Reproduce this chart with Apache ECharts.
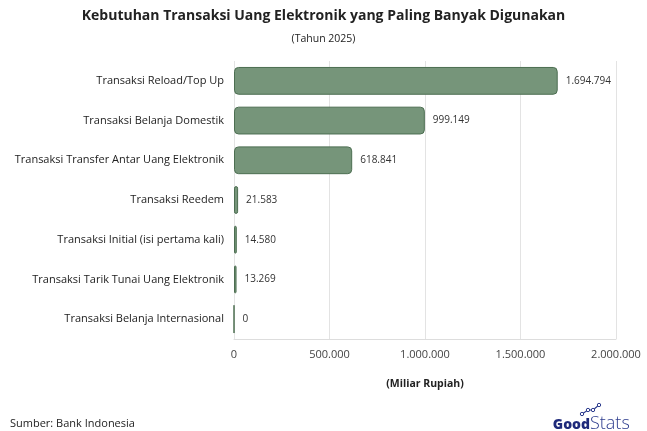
<!DOCTYPE html>
<html><head><meta charset="utf-8">
<script src="https://cdn.jsdelivr.net/npm/echarts@6/dist/echarts.min.js"></script>
<style>html,body{margin:0;padding:0;background:#fff}#c{width:647px;height:431px}</style>
</head><body><div id="c"></div>
<script>
const categories = [
  "Transaksi Reload/Top Up",
  "Transaksi Belanja Domestik",
  "Transaksi Transfer Antar Uang Elektronik",
  "Transaksi Reedem",
  "Transaksi Initial (isi pertama kali)",
  "Transaksi Tarik Tunai Uang Elektronik",
  "Transaksi Belanja Internasional"
];
const values = [1694794, 999149, 618841, 21583, 14580, 13269, 0];
const xTicks = [0, 500000, 1000000, 1500000, 2000000];

const FONT = "'Open Sans', sans-serif";
function fmt(v){ return String(Math.round(v)).replace(/\B(?=(\d{3})+(?!\d))/g, "."); }

const chart = echarts.init(document.getElementById('c'), null, {renderer:'canvas'});
chart.setOption({
  animation:false,
  textStyle:{fontFamily:FONT},
  title:[
    {text:"Kebutuhan Transaksi Uang Elektronik yang Paling Banyak Digunakan", left:'center', top:4,
     textStyle:{fontSize:14, fontWeight:'bold', color:'#222', fontFamily:FONT}},
    {text:"(Tahun 2025)", left:'center', top:29,
     textStyle:{fontSize:10.5, fontWeight:'normal', color:'#222', fontFamily:FONT}},
    {text:"Sumber: Bank Indonesia", left:5, top:413,
     textStyle:{fontSize:11, fontWeight:'normal', color:'#222', fontFamily:FONT}}
  ],
  grid:{left:234, right:31, top:61, bottom:92, containLabel:false},
  xAxis:{
    type:'value', min:xTicks[0], max:xTicks[xTicks.length-1], interval:xTicks[1]-xTicks[0],
    axisLine:{show:true, lineStyle:{color:'#dddddd'}},
    axisTick:{show:false},
    splitLine:{show:true, lineStyle:{color:'#e3e3e3'}},
    axisLabel:{formatter:fmt, color:'#444', fontSize:11, margin:10, fontFamily:FONT},
    name:"(Miliar Rupiah)", nameLocation:'middle', nameGap:40,
    nameTextStyle:{fontSize:10.5, fontWeight:'bold', color:'#222', fontFamily:FONT}
  },
  yAxis:{
    type:'category', data:categories, inverse:true,
    axisLine:{show:false}, axisTick:{show:false},
    axisLabel:{color:'#222', fontSize:11, margin:10, fontFamily:FONT}
  },
  series:[{
    type:'bar', data:values, barWidth:'70%',
    itemStyle:{color:'#76957a', borderColor:'#4c6e51', borderWidth:1, borderRadius:4},
    label:{show:true, position:'right', distance:8, formatter:p=>fmt(p.value), color:'#333', fontSize:10, fontFamily:FONT}
  }],
  graphic:[
    {type:'polyline', shape:{points:[[582,414],[588,410],[593,410],[599,405]]}, style:{stroke:'#2b3a8c', lineWidth:1.2, fill:null}},
    {type:'circle', shape:{cx:582, cy:414, r:1.7}, style:{stroke:'#2b3a8c', fill:'#fff', lineWidth:1}},
    {type:'circle', shape:{cx:588, cy:410, r:1.7}, style:{stroke:'#2b3a8c', fill:'#fff', lineWidth:1}},
    {type:'circle', shape:{cx:593, cy:410, r:1.7}, style:{stroke:'#2b3a8c', fill:'#fff', lineWidth:1}},
    {type:'circle', shape:{cx:599, cy:405, r:1.7}, style:{stroke:'#2b3a8c', fill:'#fff', lineWidth:1}},
    {type:'text', x:590, y:432, style:{text:'Good', font:"800 14px "+FONT, fill:'#1f2a7a', align:'right', verticalAlign:'bottom'}},
    {type:'text', x:590, y:433, style:{text:'Stats', font:"300 18px "+FONT, fill:'#2b3a8c', align:'left', verticalAlign:'bottom'}}
  ]
});
</script></body></html>
